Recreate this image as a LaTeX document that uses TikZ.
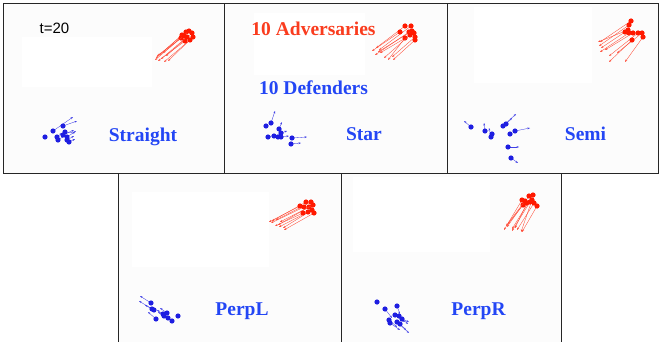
\documentclass[tikz,border=0pt]{standalone}
\usepackage{fontspec}
\setmainfont{Liberation Serif}
\setsansfont{Liberation Sans}
\usepackage{xcolor}
\usepackage{tikz}
\usetikzlibrary{arrows.meta}

\definecolor{advred}{RGB}{255,25,0}
\definecolor{defblue}{RGB}{30,30,225}
\definecolor{labelred}{RGB}{250,60,30}
\definecolor{labelblue}{RGB}{35,70,245}

\begin{document}
\begin{tikzpicture}[
    x=1pt, y=-1pt,
    panel/.style={draw=black!85, line width=0.8pt, fill=black!1.2},
    plotarea/.style={fill=white, draw=none},
    label/.style={font=\bfseries\fontsize{19.5}{22}\selectfont, text=labelblue, anchor=base, inner sep=0pt},
    redarrow/.style={draw=advred!80, line width=0.35pt, -{Stealth[length=2.6pt,width=1.8pt]}},
    bluearrow/.style={draw=defblue!85, line width=0.35pt, -{Stealth[length=2.6pt,width=1.8pt]}},
    reddot/.style={fill=advred},
    bluedot/.style={fill=defblue}
  ]
    \useasboundingbox (0,0) rectangle (661,342);
    % panels
    \draw[panel] (3,3) rectangle (224.5,173.5);
    \draw[panel] (224.5,3) rectangle (447,173.5);
    \draw[panel] (447,3) rectangle (658.5,173.5);
    \draw[panel] (118,173.5) rectangle (341,344);
    \draw[panel] (341,173.5) rectangle (561.5,344);
    \fill[plotarea] (22,37) rectangle (152,87);
    \fill[plotarea] (254,13) rectangle (365,75);
    \fill[plotarea] (474,7) rectangle (592,83);
    \fill[plotarea] (132,192) rectangle (269,267);
    \fill[plotarea] (353,177) rectangle (490,252);

    % Straight
    \foreach \x/\y/\ex/\ey in {182/35/156/58, 186/32/159/55, 189/31/163/53, 192/33/166/56, 193/37/168/61,
        190/40/164/62, 185/41/158/61, 181/38/155/60, 187/37/161/59, 184/36/157/56} {
      \draw[redarrow] (\x,\y) -- (\ex,\ey);
      \fill[reddot] (\x,\y) circle[radius=2.6pt];
    }
    \foreach \x/\y/\ex/\ey in {53/131/73/117, 63/126/77/121, 65/132/75/133, 67/140/74/136, 63/135/74/130,
        57/137/62/133, 58/140/64/136, 67/137/76/131, 69/142/75/139} {
      \draw[bluearrow] (\x,\y) -- (\ex,\ey);
    }
    \foreach \x/\y in {45/137, 53/131, 63/126, 65/132, 57/137, 67/140, 69/142, 58/140, 63/135, 67/137}
      \fill[bluedot] (\x,\y) circle[radius=2.6pt];

    % Star
    \foreach \x/\y/\ex/\ey in {405/26/376/48, 411/26/379/50, 400/32/372/51, 409/32/375/55, 414/33/380/53,
        412/31/378/52, 415/37/392/57, 415/40/393/60, 405/38/388/60, 410/35/384/58} {
      \draw[redarrow] (\x,\y) -- (\ex,\ey);
      \fill[reddot] (\x,\y) circle[radius=2.6pt];
    }
    \foreach \x/\y/\ex/\ey in {271/123/275/111, 279/129/282/122, 281/133/287/131, 268/137/275/135,
        274/136/282/134, 278/137/283/133, 281/137/289/136, 292/138/307/137, 291/144/301/143} {
      \draw[bluearrow] (\x,\y) -- (\ex,\ey);
    }
    \foreach \x/\y in {266/126, 271/123, 279/129, 281/133, 268/137, 274/136, 278/137, 281/137, 292/138, 291/144}
      \fill[bluedot] (\x,\y) circle[radius=2.6pt];

    % Semi
    \foreach \x/\y/\ex/\ey in {631/21/600/42, 629/25/599/46, 628/30/598/42, 625/32/601/48, 629/33/600/52,
        633/33/605/50, 638/33/609/56, 642/33/617/53, 643/37/625/62, 632/40/609/62} {
      \draw[redarrow] (\x,\y) -- (\ex,\ey);
      \fill[reddot] (\x,\y) circle[radius=2.6pt];
    }
    \foreach \x/\y/\ex/\ey in {471/127/464/121, 485/131/484/123, 491/137/489/128, 503/126/516/114,
        506/124/512/118, 515/131/530/128, 508/147/519/147, 511/158/518/163} {
      \draw[bluearrow] (\x,\y) -- (\ex,\ey);
    }
    \foreach \x/\y in {471/127, 485/131, 491/137, 492/134, 503/126, 506/124, 510/134, 515/131, 508/147, 511/158}
      \fill[bluedot] (\x,\y) circle[radius=2.6pt];

    % PerpL
    \foreach \x/\y/\ex/\ey in {306/202/272/221, 311/202/276/220, 300/206/269/222, 304/207/271/223, 309/207/278/225,
        312/210/283/228, 314/213/284/230, 308/212/279/227, 303/213/275/226, 313/205/280/222} {
      \draw[redarrow] (\x,\y) -- (\ex,\ey);
      \fill[reddot] (\x,\y) circle[radius=2.6pt];
    }
    \foreach \x/\y/\ex/\ey in {151/303/140/296, 152/309/139/301, 154/310/145/305, 156/319/148/312, 163/314/157/310,
        167/313/160/308, 168/318/162/313, 172/321/166/316, 164/316/158/312} {
      \draw[bluearrow] (\x,\y) -- (\ex,\ey);
    }
    \foreach \x/\y in {151/303, 152/309, 154/310, 156/319, 163/314, 167/313, 168/318, 172/321, 178/316, 164/316}
      \fill[bluedot] (\x,\y) circle[radius=2.6pt];

    % PerpR
    \foreach \x/\y/\ex/\ey in {522/200/504/230, 529/196/507/227, 533/195/512/229, 532/200/521/232, 527/203/515/228,
        523/205/508/224, 534/203/517/230, 537/206/522/232, 530/202/512/231, 525/201/506/226} {
      \draw[redarrow] (\x,\y) -- (\ex,\ey);
      \fill[reddot] (\x,\y) circle[radius=2.6pt];
    }
    \foreach \x/\y/\ex/\ey in {385/309/392/318, 397/306/400/314, 395/315/405/322, 399/316/408/324, 389/320/397/327,
        390/323/400/330, 397/322/409/333, 402/319/409/322, 400/324/406/330} {
      \draw[bluearrow] (\x,\y) -- (\ex,\ey);
    }
    \foreach \x/\y in {377/302, 385/309, 397/306, 395/315, 399/316, 389/320, 390/323, 397/322, 402/319, 400/324}
      \fill[bluedot] (\x,\y) circle[radius=2.6pt];

    % labels
    \node[font=\sffamily\fontsize{15}{17}\selectfont, anchor=base, inner sep=0pt] (time) at (54.5,34) {t=20};
    \node[label, text=labelred] (adv) at (313.5,36) {10 Adversaries};
    \node[label] (def) at (313.5,94.3) {10 Defenders};
    \node[label] (straight) at (143,141.7) {Straight};
    \node[label] (star) at (364,140.7) {Star};
    \node[label] (semi) at (585.5,140.7) {Semi};
    \node[label] (perpl) at (242,315) {PerpL};
    \node[label] (perpr) at (478.5,315) {PerpR};
  \end{tikzpicture}
\end{document}
